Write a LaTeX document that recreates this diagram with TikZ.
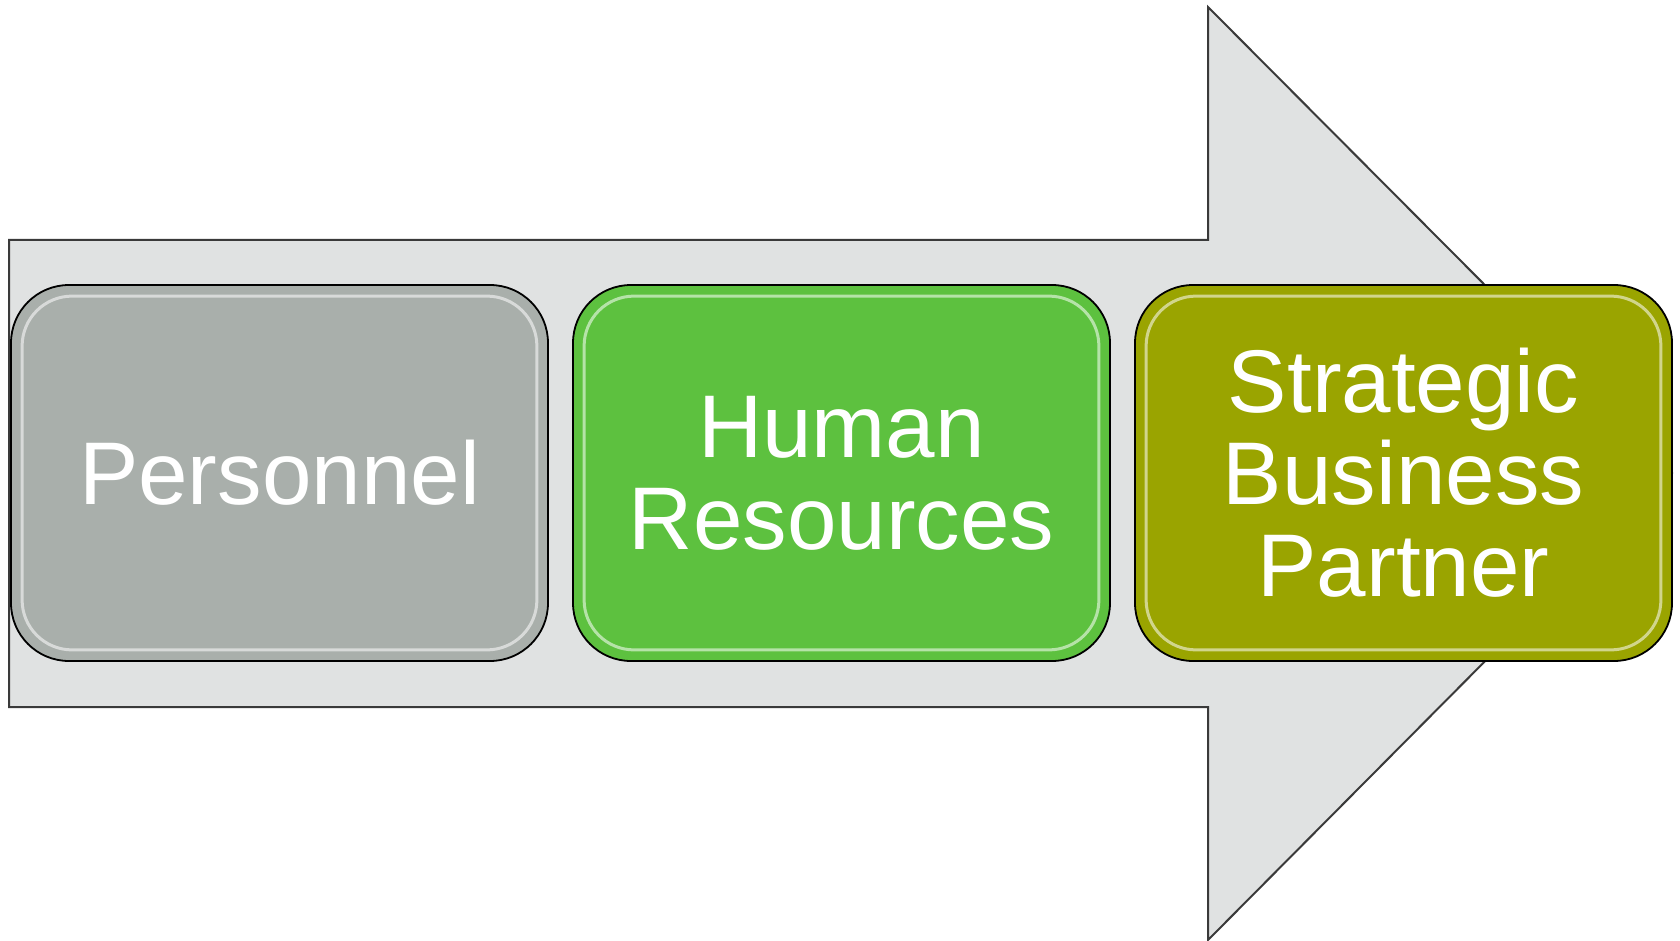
\documentclass[tikz,border=0pt]{standalone}
\usepackage{fontspec}
\setmainfont{Liberation Sans}
\definecolor{arrowfill}{HTML}{E0E2E2}
\definecolor{arrowline}{HTML}{3A3A3A}
\definecolor{cgray}{HTML}{A9AFAB}
\definecolor{cgreen}{HTML}{5DC13F}
\definecolor{colive}{HTML}{9AA400}
\tikzset{
  stage/.style={draw=black, line width=1.8pt, rounded corners=58pt, minimum width=537pt, minimum height=376pt, inner sep=0pt,
    text=white, align=center, font=\fontsize{89}{92}\selectfont},
  gloss/.style={draw=white, draw opacity=0.55, line width=3pt, rounded corners=50pt}
}
\begin{document}
\begin{tikzpicture}[x=1pt,y=-1pt]
\useasboundingbox (0,0) rectangle (1680,941);
\draw[fill=arrowfill, draw=arrowline, line width=2pt, line join=miter]
  (9,240) -- (1208,240) -- (1208,7) -- (1672,473) -- (1208,940) -- (1208,707) -- (9,707) -- cycle;
\node[stage, fill=cgray] (p) at (279.5,473) {};
\node[stage, fill=cgreen] (h) at (841.5,473) {};
\node[stage, fill=colive] (s) at (1403.5,473) {};
\foreach \n in {p,h,s}{
  \draw[gloss] ([shift={(12pt,-12pt)}]\n.north west) rectangle ([shift={(-12pt,12pt)}]\n.south east);
}
\node[text=white, font=\fontsize{89}{92}\selectfont, align=center] (pt) at (p) {Personnel};
\node[text=white, font=\fontsize{89}{92}\selectfont, align=center] (ht) at (h) {Human\\Resources};
\node[text=white, font=\fontsize{89}{92}\selectfont, align=center] (st) at (s) {Strategic\\Business\\Partner};
\end{tikzpicture}
\end{document}
